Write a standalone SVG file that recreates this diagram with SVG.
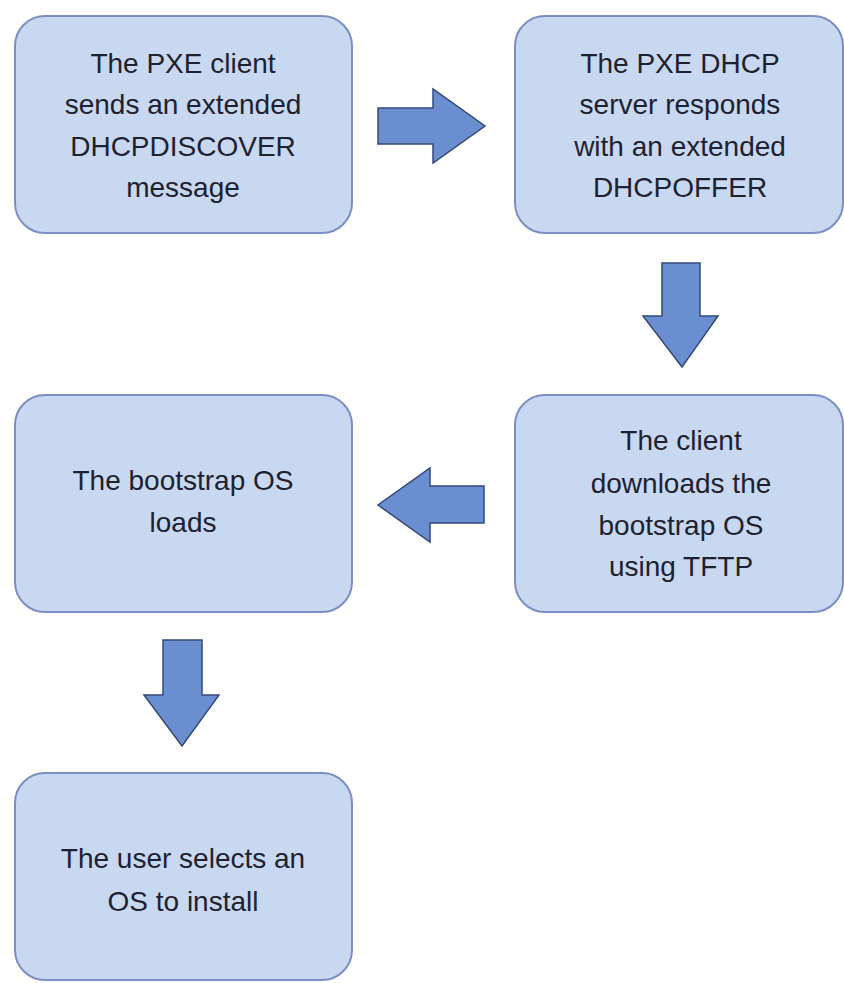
<svg xmlns="http://www.w3.org/2000/svg" width="844" height="983" viewBox="0 0 844 983">
<style>
.box{fill:#c8d8f1;stroke:#7b8ec4;stroke-width:2}
.arr{fill:#6a8fd0;stroke:#34497a;stroke-width:1.5;stroke-linejoin:miter}
text{font-family:"Liberation Sans",Arial,sans-serif;font-size:28px;fill:#1e2230;text-anchor:middle}
</style>
<rect width="844" height="983" fill="#ffffff"/>
<g id="node1">
<rect class="box" x="15" y="16" width="337" height="217" rx="30" ry="30"/>
<text x="183" y="73">The PXE client</text>
<text x="183" y="114">sends an extended</text>
<text x="183" y="156">DHCPDISCOVER</text>
<text x="183" y="197">message</text>
</g>
<g id="node2">
<rect class="box" x="515" y="16" width="328" height="217" rx="30" ry="30"/>
<text x="680" y="73">The PXE DHCP</text>
<text x="680" y="114">server responds</text>
<text x="680" y="156">with an extended</text>
<text x="680" y="197">DHCPOFFER</text>
</g>
<g id="node3">
<rect class="box" x="515" y="395" width="328" height="217" rx="30" ry="30"/>
<text x="681" y="450">The client</text>
<text x="681" y="493">downloads the</text>
<text x="681" y="535">bootstrap OS</text>
<text x="681" y="576">using TFTP</text>
</g>
<g id="node4">
<rect class="box" x="15" y="395" width="337" height="217" rx="30" ry="30"/>
<text x="183" y="490">The bootstrap OS</text>
<text x="183" y="532">loads</text>
</g>
<g id="node5">
<rect class="box" x="15" y="773" width="337" height="207" rx="30" ry="30"/>
<text x="183" y="868">The user selects an</text>
<text x="183" y="911">OS to install</text>
</g>
<g id="connectors">
<polygon class="arr" points="378,108 433,108 433,89 485,126 433,163 433,144 378,144"/>
<polygon class="arr" points="662,263 700,263 700,316 718,316 682,367 643,316 662,316"/>
<polygon class="arr" points="484,486 430,486 430,468 378,505 430,542 430,523 484,523"/>
<polygon class="arr" points="163,640 202,640 202,695 219,695 182,746 144,695 163,695"/>
</g>
</svg>
